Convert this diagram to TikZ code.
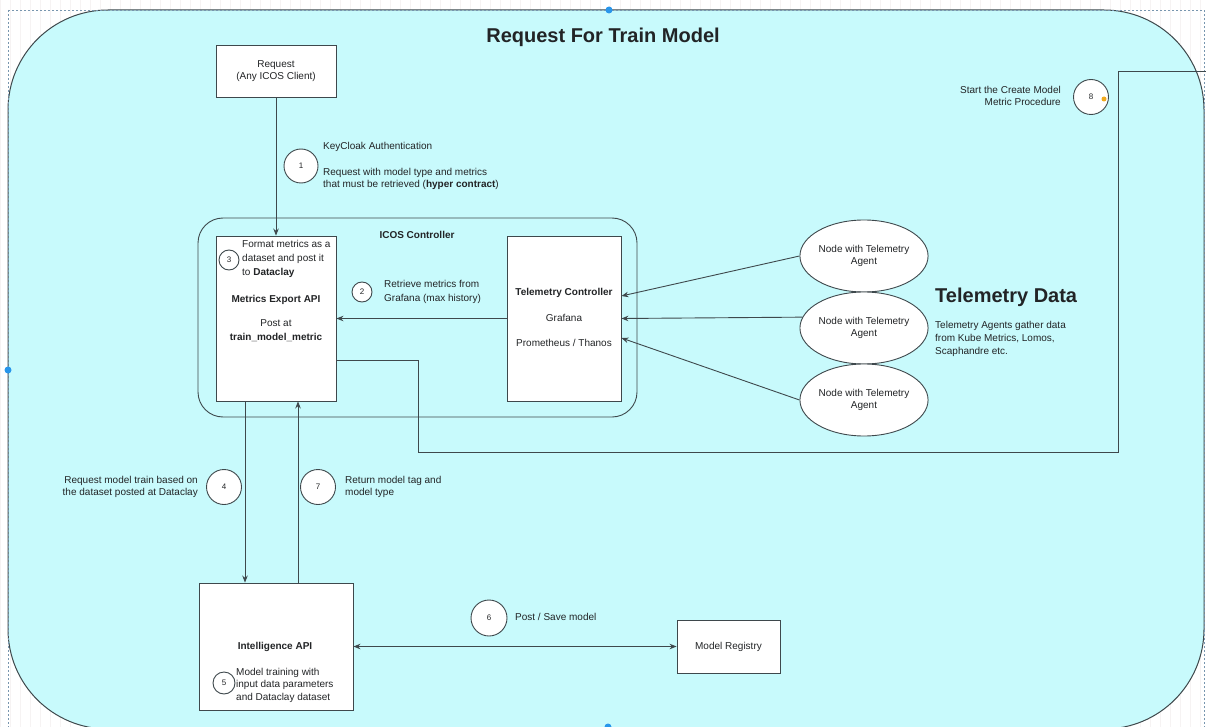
\documentclass[tikz,border=0pt]{standalone}
\usepackage{fontspec}
\setmainfont{Liberation Sans}
\usetikzlibrary{arrows.meta,shapes.geometric}

\definecolor{panel}{RGB}{200,250,252}
\definecolor{edge}{RGB}{62,72,76}
\definecolor{ink}{RGB}{34,36,38}
\definecolor{gridc}{RGB}{246,243,243}
\definecolor{selc}{RGB}{120,150,175}
\definecolor{handle}{RGB}{40,150,235}
\definecolor{hover}{RGB}{240,170,30}

\begin{document}
\begin{tikzpicture}[x=1pt,y=-1pt,
  every node/.style={text=ink, font=\fontsize{10}{12.5}\selectfont},
  box/.style={draw=edge, fill=white, line width=0.9pt, inner sep=0pt},
  agent/.style={ellipse, draw=edge, fill=white, line width=0.9pt, inner sep=0pt,
    minimum width=104, minimum height=72, align=center},
  num/.style={circle, draw=edge, fill=white, line width=0.9pt, inner sep=0pt,
    minimum size=#1, font=\fontsize{8}{8}\selectfont},
  lbl/.style={inner sep=1pt, align=left},
  rlbl/.style={inner sep=1pt, align=right},
  bold/.style={font=\bfseries\fontsize{10}{12.5}\selectfont},
  link/.style={draw=edge, line width=0.9pt},
  arr/.style={link, -{Stealth[length=7pt,width=5.5pt]}},
  arrboth/.style={link, {Stealth[length=7pt,width=5.5pt]}-{Stealth[length=7pt,width=5.5pt]}}
]
\clip (0,0) rectangle (1206,727);

% canvas grid
\fill[white] (0,0) rectangle (1206,727);
\draw[gridc, line width=0.3pt, step=10] (0,0) grid (1206,727);

% main panel
\draw[fill=panel, draw=edge, line width=1pt, rounded corners=100] (8,10) rectangle (1204,729);
\draw[selc, line width=0.6pt, dash pattern=on 2pt off 2pt] (8,10) rectangle (1204,729);
\fill[handle] (609,10) circle (3.5);
\fill[handle] (8,370) circle (3.5);
\fill[handle] (608,727) circle (3.5);

\node[font=\bfseries\fontsize{20}{24}\selectfont] (title) at (603,37) {Request For Train Model};

% client
\node[box, minimum width=120, minimum height=52, align=center] (req) at (276,71) {Request\\(Any ICOS Client)};

% ICOS controller group
\node[draw=edge, line width=0.9pt, rounded corners=25, minimum width=439, minimum height=199] (icos) at (417.5,317.5) {};
\node[bold] (icoslbl) at (417,235) {ICOS Controller};

\node[box, minimum width=120, minimum height=165] (mex) at (276,318.5) {};
\node[box, minimum width=114, minimum height=165] (tel) at (564,318.5) {};

\node[num=20] (n3) at (229,260) {3};
\node[lbl, anchor=west, font=\fontsize{10}{14}\selectfont] (t3) at (241,259) {Format metrics as a\\dataset and post it\\to \textbf{Dataclay}};
\node[bold] (mexlbl) at (276,300) {Metrics Export API};
\node[align=center, font=\fontsize{10}{14}\selectfont] (mexpost) at (276,331) {Post at\\\textbf{train\_model\_metric}};

\node[bold] (tellbl) at (564,293) {Telemetry Controller};
\node (graf) at (564,318) {Grafana};
\node (prom) at (564,343) {Prometheus / Thanos};

\node[num=20] (n2) at (362,292) {2};
\node[lbl, anchor=west, font=\fontsize{10}{14}\selectfont] (t2) at (383,292) {Retrieve metrics from\\Grafana (max history)};

% telemetry agents
\node[agent] (ag1) at (864,256) {Node with Telemetry\\Agent};
\node[agent] (ag2) at (864,328) {Node with Telemetry\\Agent};
\node[agent] (ag3) at (864,400) {Node with Telemetry\\Agent};

\node[anchor=west, inner sep=0pt, font=\bfseries\fontsize{20}{24}\selectfont] (tdata) at (935,297) {Telemetry Data};
\node[lbl, anchor=west, inner sep=0pt, font=\fontsize{10}{13}\selectfont] (tdesc) at (935,339) {Telemetry Agents gather data\\from Kube Metrics, Lomos,\\Scaphandre etc.};

% step 1
\node[num=34] (n1) at (301,166) {1};
\node[lbl, anchor=west] (t1a) at (322,147) {KeyCloak Authentication};
\node[lbl, anchor=west] (t1b) at (322,179) {Request with model type and metrics\\that must be retrieved (\textbf{hyper contract})};

% intelligence
\node[box, minimum width=154, minimum height=127] (intel) at (276,646.5) {};
\node[bold] (intlbl) at (275,647) {Intelligence API};
\node[num=22] (n5) at (224,683) {5};
\node[lbl, anchor=west] (t5) at (235,685) {Model training with\\input data parameters\\and Dataclay dataset};

\node[num=35] (n4) at (224,487) {4};
\node[rlbl, anchor=east] (t4) at (199,487) {Request model train based on\\the dataset posted at Dataclay};
\node[num=35] (n7) at (318,487) {7};
\node[lbl, anchor=west] (t7) at (344,487) {Return model tag and\\model type};

% registry
\node[box, minimum width=103, minimum height=53] (reg) at (728.5,646.5) {Model Registry};
\node[num=36] (n6) at (489,618) {6};
\node[lbl, anchor=west] (t6) at (514,617) {Post / Save model};

% step 8
\node[num=35] (n8) at (1091,97) {8};
\node[rlbl, anchor=east] (t8) at (1062,96) {Start the Create Model\\Metric Procedure};
\fill[hover] (1104,99) circle (2.5);

% connectors
\draw[arr] (req) -- (mex);
\draw[arr] (tel.west) -- (mex.east);
\draw[arr] (ag1.west) -- ([yshift=22.5pt]tel.east);
\draw[arr] (ag2.170) -- (tel.east);
\draw[arr] (ag3.west) -- ([yshift=-19.5pt]tel.east);
\draw[arr] ([xshift=-31pt]mex.south) -- ([xshift=-31pt]intel.north);
\draw[arr] ([xshift=22pt]intel.north) -- ([xshift=22pt]mex.south);
\draw[arrboth] (intel.east) -- (reg.west);

\coordinate (bend1) at (418,452);
\coordinate (bend2) at (1118,71);
\coordinate (exit8) at (1212,71);
\draw[link] ([yshift=-41.5pt]mex.east) -| (bend1) -| (bend2) -- (exit8);
\end{tikzpicture}
\end{document}
